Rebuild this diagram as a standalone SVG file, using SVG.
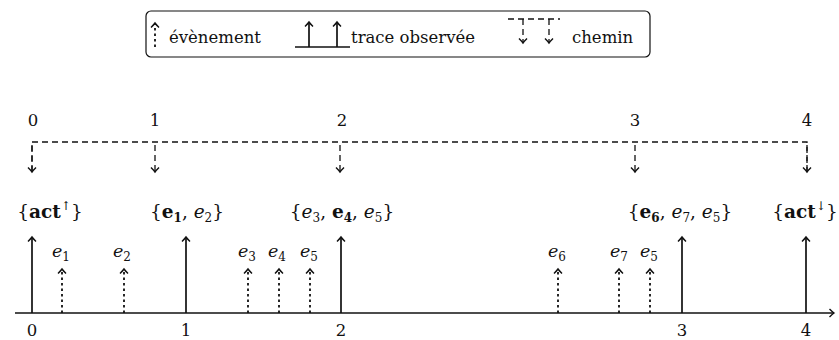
<svg xmlns="http://www.w3.org/2000/svg" width="839" height="340" viewBox="0 0 839 340">
<defs>
<style>
text{font-family:"DejaVu Serif","Liberation Serif",serif;font-size:16.5px;fill:#111}
.lab{font-size:18.5px}
.ev{font-size:17.5px}
.m{text-anchor:middle}
.i{font-style:italic}
.b{font-weight:bold}
.sub{font-size:12px}
.sup{font-size:12px}
.solid{stroke:#111;stroke-width:1.7;fill:none}
.dot{stroke:#111;stroke-width:1.8;fill:none;stroke-dasharray:2.5 3}
.dash{stroke:#111;stroke-width:1.3;fill:none;stroke-dasharray:6 4}
.box{stroke:#111;stroke-width:1.2;fill:#fff}
</style>
<marker id="ah" viewBox="-6 -6 8 12" markerWidth="8" markerHeight="12" refX="0" refY="0" orient="auto" markerUnits="userSpaceOnUse">
<path d="M-4.5,-4 Q-1.5,-1 0,0 Q-1.5,1 -4.5,4" fill="none" stroke="#111" stroke-width="1.4" stroke-dasharray="none"/>
</marker>
</defs>
<rect width="839" height="340" fill="#fff"/>

<g id="legend">
<rect class="box" x="146" y="11" width="504" height="46" rx="5"/>
<path class="dot" d="M155,47 V23" marker-end="url(#ah)"/>
<text x="169" y="43">évènement</text>
<path class="solid" d="M295,47 H350"/>
<path class="solid" d="M309,47 V22" marker-end="url(#ah)"/>
<path class="solid" d="M337,47 V22" marker-end="url(#ah)"/>
<text x="351" y="43">trace observée</text>
<path class="dash" d="M508,19 H560"/>
<path class="dash" d="M523,19 V43" stroke-dasharray="4 3" marker-end="url(#ah)"/>
<path class="dash" d="M549,19 V43" stroke-dasharray="4 3" marker-end="url(#ah)"/>
<text x="572" y="43">chemin</text>
</g>

<g id="connectors">
<path class="dash" d="M32,172 V142 H807 V172"/>
<path class="dash" d="M32,145 V172" marker-end="url(#ah)"/>
<path class="dash" d="M155,145 V172" marker-end="url(#ah)"/>
<path class="dash" d="M340,145 V172" marker-end="url(#ah)"/>
<path class="dash" d="M635,145 V172" marker-end="url(#ah)"/>
<path class="dash" d="M807,145 V172" marker-end="url(#ah)"/>
<path class="solid" d="M15,313 H834" marker-end="url(#ah)"/>
<path class="solid" d="M32,313 V237" marker-end="url(#ah)"/>
<path class="solid" d="M186,313 V237" marker-end="url(#ah)"/>
<path class="solid" d="M341,313 V237" marker-end="url(#ah)"/>
<path class="solid" d="M682,313 V237" marker-end="url(#ah)"/>
<path class="solid" d="M806,313 V237" marker-end="url(#ah)"/>
<path class="dot" d="M62,313 V269" marker-end="url(#ah)"/>
<path class="dot" d="M124,313 V269" marker-end="url(#ah)"/>
<path class="dot" d="M248,313 V269" marker-end="url(#ah)"/>
<path class="dot" d="M279,313 V269" marker-end="url(#ah)"/>
<path class="dot" d="M310,313 V269" marker-end="url(#ah)"/>
<path class="dot" d="M558,313 V269" marker-end="url(#ah)"/>
<path class="dot" d="M619,313 V269" marker-end="url(#ah)"/>
<path class="dot" d="M650,313 V269" marker-end="url(#ah)"/>
</g>

<g id="path-indices">
<text class="m" x="33" y="126">0</text>
<text class="m" x="155" y="126">1</text>
<text class="m" x="342" y="126">2</text>
<text class="m" x="635" y="126">3</text>
<text class="m" x="807" y="126">4</text>
</g>

<g id="step-0"><text class="m lab" x="50" y="218">{<tspan class="b">act</tspan><tspan class="sup" dy="-8">↑</tspan><tspan dy="8">}</tspan></text></g>
<g id="step-1"><text class="m lab" x="187" y="218">{<tspan class="b">e</tspan><tspan class="sub b" dy="4">1</tspan><tspan dy="-4">, </tspan><tspan class="i">e</tspan><tspan class="sub" dy="4">2</tspan><tspan dy="-4">}</tspan></text></g>
<g id="step-2"><text class="m lab" x="342" y="218">{<tspan class="i">e</tspan><tspan class="sub" dy="4">3</tspan><tspan dy="-4">, </tspan><tspan class="b">e</tspan><tspan class="sub b" dy="4">4</tspan><tspan dy="-4">, </tspan><tspan class="i">e</tspan><tspan class="sub" dy="4">5</tspan><tspan dy="-4">}</tspan></text></g>
<g id="step-3"><text class="m lab" x="680" y="218">{<tspan class="b">e</tspan><tspan class="sub b" dy="4">6</tspan><tspan dy="-4">, </tspan><tspan class="i">e</tspan><tspan class="sub" dy="4">7</tspan><tspan dy="-4">, </tspan><tspan class="i">e</tspan><tspan class="sub" dy="4">5</tspan><tspan dy="-4">}</tspan></text></g>
<g id="step-4"><text class="m lab" x="805" y="218">{<tspan class="b">act</tspan><tspan class="sup" dy="-8">↓</tspan><tspan dy="8">}</tspan></text></g>

<g id="events">
<text class="ev" x="52" y="257"><tspan class="i">e</tspan><tspan class="sub" dy="4">1</tspan></text>
<text class="ev" x="113" y="257"><tspan class="i">e</tspan><tspan class="sub" dy="4">2</tspan></text>
<text class="ev" x="238" y="257"><tspan class="i">e</tspan><tspan class="sub" dy="4">3</tspan></text>
<text class="ev" x="268" y="257"><tspan class="i">e</tspan><tspan class="sub" dy="4">4</tspan></text>
<text class="ev" x="300" y="257"><tspan class="i">e</tspan><tspan class="sub" dy="4">5</tspan></text>
<text class="ev" x="548" y="257"><tspan class="i">e</tspan><tspan class="sub" dy="4">6</tspan></text>
<text class="ev" x="610" y="257"><tspan class="i">e</tspan><tspan class="sub" dy="4">7</tspan></text>
<text class="ev" x="640" y="257"><tspan class="i">e</tspan><tspan class="sub" dy="4">5</tspan></text>
</g>

<g id="axis-ticks">
<text class="m" x="32" y="336">0</text>
<text class="m" x="186" y="336">1</text>
<text class="m" x="341" y="336">2</text>
<text class="m" x="682" y="336">3</text>
<text class="m" x="806" y="336">4</text>
</g>
</svg>
